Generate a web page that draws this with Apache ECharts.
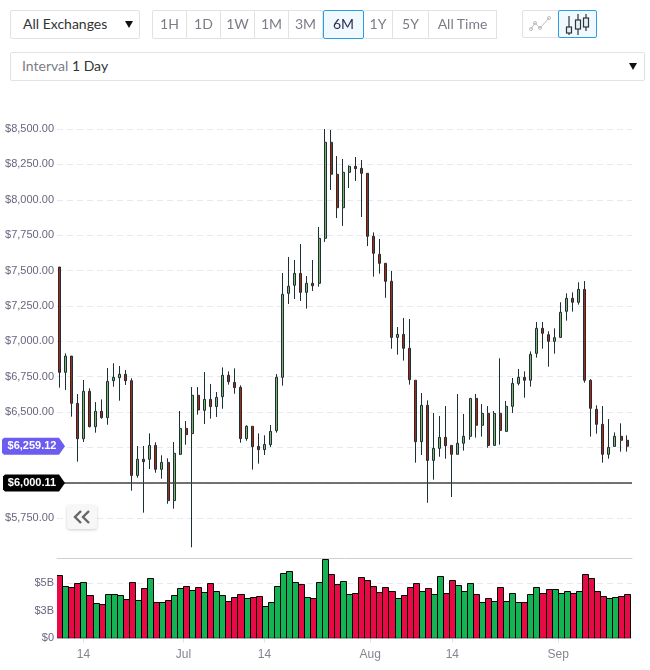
<!DOCTYPE html>
<html>
<head>
<meta charset="utf-8">
<title>Price chart</title>
<script src="https://cdn.jsdelivr.net/npm/echarts@6/dist/echarts.min.js"></script>
<style>
  html, body { margin: 0; padding: 0; background: #fff; }
  body { width: 650px; height: 670px; position: relative; overflow: hidden; font-family: Lato, sans-serif; font-size: 14px; color: #3a3a4a; }
  #chart { position: absolute; left: 0; top: 0; width: 650px; height: 670px; }
  .box { position: absolute; box-sizing: border-box; border: 1px solid #e2e2e2; border-radius: 2px; background: #fff; height: 29px; line-height: 25px; }
  .btn { text-align: center; color: #7c7c88; border-radius: 0; border-left-width: 0; }
  .btn.first { border-left-width: 1px; border-radius: 2px 0 0 2px; }
  .btn.active { border: 1px solid #2a9fe0; background: #f0f9ff; color: #2c2c50; border-radius: 2px; }
  .arrow { position: absolute; width: 0; height: 0; border-left: 4px solid transparent; border-right: 4px solid transparent; border-top: 7px solid #111; }
  #back { position: absolute; left: 67px; top: 505px; width: 30px; height: 24px; background: #f7f7f7; border-radius: 3px; box-shadow: 0 1px 3px rgba(0,0,0,.2); }
</style>
</head>
<body>
<div id="chart"></div>

<div class="box" style="left:10px;top:10px;width:130px;padding-left:12px;color:#333">All Exchanges<span class="arrow" style="left:114px;top:10px"></span></div>

<div class="box btn first" style="left:152px;top:10px;width:35px">1H</div>
<div class="box btn" style="left:187px;top:10px;width:34px">1D</div>
<div class="box btn" style="left:221px;top:10px;width:34px">1W</div>
<div class="box btn" style="left:255px;top:10px;width:34px">1M</div>
<div class="box btn" style="left:289px;top:10px;width:34px">3M</div>
<div class="box btn active" style="left:323px;top:10px;width:41px">6M</div>
<div class="box btn" style="left:364px;top:10px;width:29px">1Y</div>
<div class="box btn" style="left:393px;top:10px;width:36px">5Y</div>
<div class="box btn" style="left:429px;top:10px;width:68px">All Time</div>

<div class="box btn first" style="left:522px;top:10px;width:37px;height:28px">
  <svg width="36" height="26" style="display:block" fill="none" stroke="#bdbdbd" stroke-width="1">
    <polyline points="8,18 12,12 17,17 26,7"/><circle cx="8" cy="18" r="1.5"/><circle cx="12" cy="12" r="1.5"/><circle cx="17" cy="17" r="1.5"/><circle cx="26" cy="7" r="1.5"/>
  </svg>
</div>
<div class="box btn active" style="left:558px;top:10px;width:39px;height:28px">
  <svg width="37" height="26" style="display:block" fill="#dff2fb" stroke="#333" stroke-width="1.2">
    <path d="M10 5V24M19 3V24M27 3V20" fill="none"/>
    <rect x="7.5" y="16" width="5" height="6"/><rect x="16.5" y="9" width="5" height="9"/><rect x="24.5" y="7" width="5" height="9"/>
  </svg>
</div>

<div class="box" style="left:10px;top:52px;width:635px;height:29px;padding-left:11px"><span style="color:#7c7c88">Interval</span> <span style="color:#333">1 Day</span><span class="arrow" style="left:618px;top:10px"></span></div>

<div id="back">
  <svg width="30" height="24" fill="none" stroke="#666" stroke-width="2.4">
    <polyline points="14,6 8,12 14,18"/><polyline points="22,6 16,12 22,18"/>
  </svg>
</div>

<script>
// values, one candle per day
const opens = [7525,6781,6896,6562,6312,6647,6397,6506,6461,6722,6743,6767,6722,6053,6167,6167,6265,6096,6145,5875,6202,6385,6348,6619,6513,6590,6539,6609,6760,6710,6675,6313,6400,6258,6235,6270,6369,6746,7339,7396,7480,7346,7410,7410,7728,8406,8180,7944,8194,8236,8222,8187,7742,7615,7551,7424,7028,7049,6951,6725,6291,6548,6159,6244,6322,6265,6202,6280,6329,6597,6407,6491,6265,6491,6364,6541,6703,6746,6725,6915,7092,7047,7000,7028,7212,7304,7276,7367,6725,6520,6414,6202,6258,6329,6301];
const closes = [6781,6896,6562,6312,6647,6397,6506,6461,6717,6746,6767,6722,6053,6167,6150,6265,6096,6145,5875,6209,6385,6341,6619,6515,6590,6539,6604,6760,6715,6673,6313,6400,6256,6235,6272,6364,6746,7332,7389,7480,7346,7410,7393,7728,8406,8180,7944,8194,8236,8220,8187,7742,7622,7551,7424,7028,7049,6951,6729,6291,6548,6159,6244,6322,6263,6202,6280,6329,6597,6407,6491,6265,6491,6371,6541,6703,6746,6725,6908,7092,7057,7000,7026,7205,7304,7276,7367,6725,6527,6414,6202,6251,6329,6301,6259];
const lows = [6673,6656,6468,6150,6289,6393,6355,6454,6411,6680,6581,6692,5945,6037,5790,6098,6072,6030,5853,5818,6197,6270,5545,6482,6416,6454,6466,6524,6694,6630,6284,6298,6094,6136,6197,6254,6355,6687,7264,7299,7285,7231,7356,7386,7702,8069,7871,7815,8083,8133,7878,7673,7457,7478,7308,6948,6906,6864,6694,6143,6197,5860,6023,6185,6171,5900,6202,6228,6305,6320,6327,6249,6265,6270,6362,6494,6689,6602,6680,6885,6948,6821,6913,7026,7146,7210,7259,6708,6327,6348,6143,6171,6256,6221,6221];
const highs = [7525,6915,6896,6628,6727,6668,6571,6590,6812,6845,6826,6798,6739,6261,6261,6350,6287,6195,6174,6289,6508,6437,6677,6677,6783,6699,6642,6816,6788,6809,6689,6407,6400,6350,6336,6409,6769,7483,7596,7575,7688,7461,7575,7808,8500,8493,8309,8288,8243,8302,8281,8187,7770,7723,7551,7497,7101,7165,7158,6725,6635,6583,6494,6473,6543,6265,6628,6487,6597,6628,6557,6543,6508,6880,6579,6741,6805,6788,6929,7137,7137,7071,7092,7276,7339,7346,7417,7426,6732,6548,6543,6451,6357,6421,6336];

// volume in billions of dollars and whether that day's bar is green
const volumes = [5.73,4.73,4.64,5.0,5.09,3.91,3.18,3.09,4.0,4.0,3.91,3.55,5.09,3.45,4.55,5.45,3.27,3.27,3.45,3.91,4.55,4.73,4.36,4.64,4.18,5.0,4.27,3.91,3.36,3.73,4.0,3.64,3.73,3.82,2.91,3.27,4.73,5.91,6.09,5.09,4.91,3.73,3.64,5.09,7.24,5.82,4.91,5.18,4.0,4.09,5.55,5.27,4.73,4.18,4.64,4.27,3.64,3.91,4.64,5.0,4.27,4.55,4.0,5.64,4.09,5.27,4.82,4.27,5.0,4.0,3.27,3.64,3.36,4.64,3.36,4.09,3.27,3.27,4.0,4.64,4.09,4.45,4.45,4.09,4.27,4.09,4.27,5.82,5.45,4.27,3.82,3.64,3.73,3.82,4.0];
const volumeUp = [0,1,0,0,1,0,1,0,1,1,1,0,0,1,0,1,0,1,0,1,1,0,1,0,1,0,1,1,0,0,0,1,0,0,1,1,1,1,1,1,0,1,0,1,1,0,0,1,1,0,0,0,0,0,0,0,1,0,0,0,1,0,1,1,0,0,1,1,1,0,1,0,1,0,1,1,1,0,1,1,0,0,1,1,1,0,1,0,0,0,0,1,1,0,0];

// date ticks along the bottom, positions in day units
const tickLabels = ['14', 'Jul', '14', 'Aug', '14', 'Sep'];
const tickDays = [4, 20.56, 33.97, 51.49, 65.07, 82.6];

const currentPrice = 6259.12;
const supportPrice = 6000.11;

const GREEN = '#7fb56b';
const RED = '#b5230c';
const WICK = '#1c2f35';
const AXIS_TEXT = '#66667f';
const FONT = '"Liberation Sans", Arial, sans-serif';

const chart = echarts.init(document.getElementById('chart'));

const candleData = opens.map((o, i) => [i, o, closes[i], lows[i], highs[i]]);
const volumeData = volumes.map((v, i) => [i, v]);

const xRange = { min: -0.38, max: 94.82 };

// volume bars snap to whole pixels so neighbours share one black edge
function renderVolumeBar(params, api) {
  const day = api.value(0);
  const topLeft = api.coord([day - 0.5, api.value(1)]);
  const bottomRight = api.coord([day + 0.5, 0]);
  const x = Math.round(topLeft[0]) + 0.5;
  const y = Math.round(topLeft[1]) + 0.5;
  return {
    type: 'rect',
    shape: { x: x, y: y, width: Math.round(bottomRight[0]) + 0.5 - x, height: bottomRight[1] - y },
    style: { fill: volumeUp[params.dataIndex] ? '#14b354' : '#e80a45', stroke: '#000', lineWidth: 1 }
  };
}

chart.setOption({
  animation: false,
  backgroundColor: '#fff',
  grid: [
    { left: 57, width: 575, top: 93.6, height: 460.1 },
    { left: 57, width: 575, top: 558.5, height: 79.8 }
  ],
  xAxis: [
    { type: 'value', gridIndex: 0, ...xRange, show: false },
    {
      type: 'value', gridIndex: 1, ...xRange,
      splitLine: { show: false },
      axisLine: { onZero: false, lineStyle: { color: '#e6e6ee' } },
      axisTick: { length: 4, lineStyle: { color: '#e0e0e8' }, customValues: tickDays },
      axisLabel: {
        color: '#85858f', fontSize: 12, fontFamily: FONT, margin: 10,
        customValues: tickDays,
        formatter: v => tickLabels[tickDays.indexOf(v)]
      }
    },
    // separator on top of the volume pane
    {
      type: 'value', gridIndex: 1, ...xRange, position: 'top',
      splitLine: { show: false },
      axisLine: { onZero: false, lineStyle: { color: '#cfcfcf', width: 1 } },
      axisTick: { show: false },
      axisLabel: { show: false }
    }
  ],
  yAxis: [
    {
      type: 'value', gridIndex: 0, min: 5500, max: 8750, interval: 250,
      axisLine: { show: false },
      axisTick: { show: false },
      splitLine: { showMinLine: false, showMaxLine: false, lineStyle: { color: '#e8e8f0', type: [6, 4] } },
      axisLabel: {
        color: AXIS_TEXT, fontSize: 11, fontFamily: FONT, margin: 3,
        showMinLabel: false, showMaxLabel: false,
        formatter: v => '$' + v.toLocaleString('en-US') + '.00'
      }
    },
    {
      type: 'value', gridIndex: 1, min: 0, max: 7.25, interval: 2.5,
      axisLine: { show: false },
      axisTick: { show: false },
      splitLine: { showMaxLine: false, lineStyle: { color: '#e8e8f0', type: [6, 4] } },
      axisLabel: {
        color: AXIS_TEXT, fontSize: 11, fontFamily: FONT, margin: 3,
        showMaxLabel: false,
        formatter: v => (v === 0 ? '$0' : '$' + Math.round(v) + 'B')
      }
    }
  ],
  series: [
    {
      type: 'candlestick',
      xAxisIndex: 0,
      yAxisIndex: 0,
      barWidth: 2.5,
      encode: { x: 0, y: [1, 2, 3, 4] },
      data: candleData,
      itemStyle: { color: GREEN, color0: RED, borderColor: WICK, borderColor0: WICK, borderWidth: 1 },
      markLine: {
        silent: true,
        symbol: 'none',
        label: { show: false },
        lineStyle: { color: '#444', width: 1.5, type: 'solid' },
        data: [{ yAxis: supportPrice }]
      }
    },
    {
      type: 'custom',
      xAxisIndex: 1,
      yAxisIndex: 1,
      clip: true,
      encode: { x: 0, y: 1 },
      data: volumeData,
      renderItem: renderVolumeBar
    }
  ]
});

// price tags on the left edge follow the price scale
function priceTag(price, left, fill) {
  const y = chart.convertToPixel({ yAxisIndex: 0 }, price);
  const r = 2, h = 8.5, right = 65, shoulder = 59;
  return [
    {
      type: 'polygon', z: 100,
      shape: { points: [[left + r, y - h], [shoulder, y - h], [right, y], [shoulder, y + h], [left + r, y + h], [left, y + h - r], [left, y - h + r]] },
      style: { fill: fill }
    },
    {
      type: 'text', z: 101, x: 32, y: y,
      style: {
        text: '$' + price.toLocaleString('en-US', { minimumFractionDigits: 2 }),
        fill: '#fff', font: 'bold 11px ' + FONT, align: 'center', verticalAlign: 'middle'
      }
    }
  ];
}

chart.setOption({
  graphic: [...priceTag(currentPrice, 2, '#6c5cf0'), ...priceTag(supportPrice, 3, '#000')]
});

window.addEventListener('resize', () => chart.resize());
</script>
</body>
</html>
